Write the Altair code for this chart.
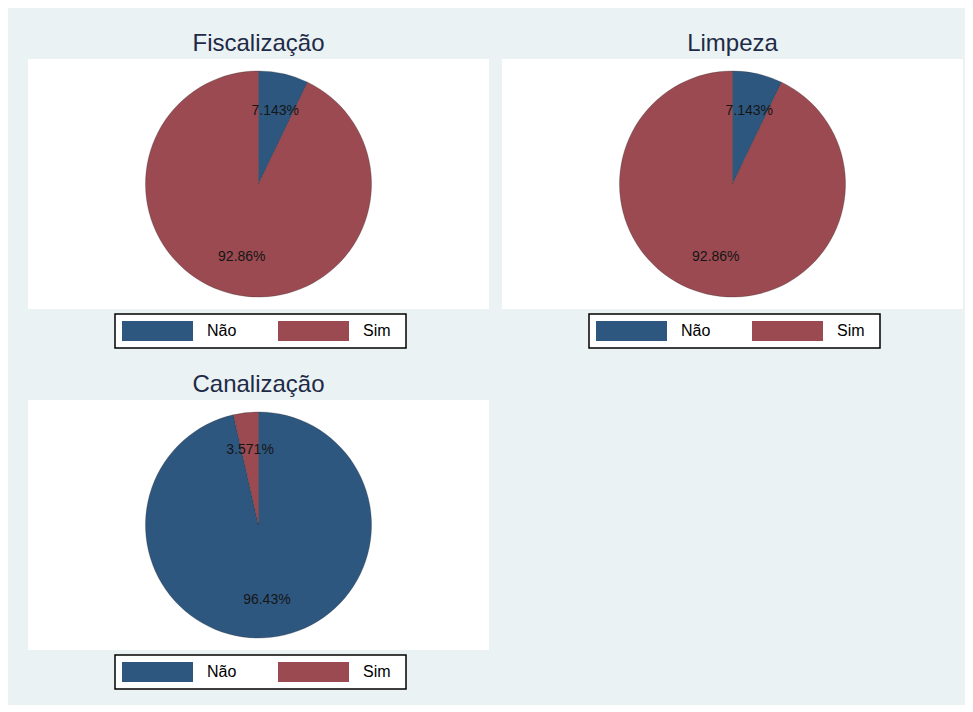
import altair as alt
import pandas as pd

# ---- data ----
panel_titles = ["Fiscalização", "Limpeza", "Canalização"]
categories = ["Não", "Sim"]
fiscalizacao_pct = [7.143, 92.86]
limpeza_pct = [7.143, 92.86]
canalizacao_pct = [96.43, 3.571]

# ---- styling ----
colors = ["#2E5780", "#9B4A51"]
FONT = "Liberation Sans"
BG = "#EAF2F3"
TITLE_COLOR = "#1E2B47"
W, H = 461, 250
PAD_TAIL = "\u2002\u200b"  # en space kept from trimming by a zero-width char


def panel(title, values):
    df = pd.DataFrame({"cat": categories, "pct": values, "ord": list(range(len(categories)))})
    base = alt.Chart(df).encode(
        theta=alt.Theta("pct:Q", stack=True),
        order=alt.Order("ord:Q"),
    )
    arcs = base.mark_arc(
        outerRadius=113, stroke="#222222", strokeOpacity=0.35, strokeWidth=0.8
    ).encode(
        color=alt.Color(
            "cat:N",
            scale=alt.Scale(domain=categories, range=colors),
            legend=alt.Legend(
                title=None,
                orient="none",
                legendX=87,
                legendY=255,
                direction="horizontal",
                symbolType="M-1,-1H6.1V1H-1Z",
                symbolSize=400,
                symbolStrokeWidth=0,
                symbolOpacity=1,
                labelFont=FONT,
                labelFontSize=16,
                labelColor="black",
                labelOffset=65,
                columnPadding=41,
                padding=7,
                fillColor="white",
                strokeColor="black",
                labelExpr="datum.label == 'Sim' ? 'Sim" + PAD_TAIL + "' : datum.label",
            ),
        )
    )
    text = (
        base.transform_calculate(label="format(datum.pct, '.4r') + '%'")
        .mark_text(radius=75, font=FONT, fontSize=14, color="#151515")
        .encode(text="label:N")
    )
    return alt.layer(arcs, text).properties(
        width=W,
        height=H,
        view=alt.ViewBackground(fill="white", stroke=None),
        title=alt.Title(
            title,
            font=FONT,
            fontSize=24,
            fontWeight="normal",
            color=TITLE_COLOR,
            anchor="middle",
            frame="group",
            offset=3,
        ),
    )


p1 = panel(panel_titles[0], fiscalizacao_pct)
p2 = panel(panel_titles[1], limpeza_pct)
p3 = panel(panel_titles[2], canalizacao_pct)

row1 = alt.hconcat(p1, p2, spacing=13).resolve_legend(color="independent")
chart = (
    alt.vconcat(row1, p3, spacing=24)
    .resolve_legend(color="independent")
    .properties(padding={"left": 20, "top": 24, "right": 2, "bottom": 15})
    .configure(background=BG)
    .configure_view(fill="white", stroke=None)
    .configure_legend(strokeWidth=1.5, cornerRadius=0)
)

chart.save("out.html", embed_options={"renderer": "svg", "actions": False})
